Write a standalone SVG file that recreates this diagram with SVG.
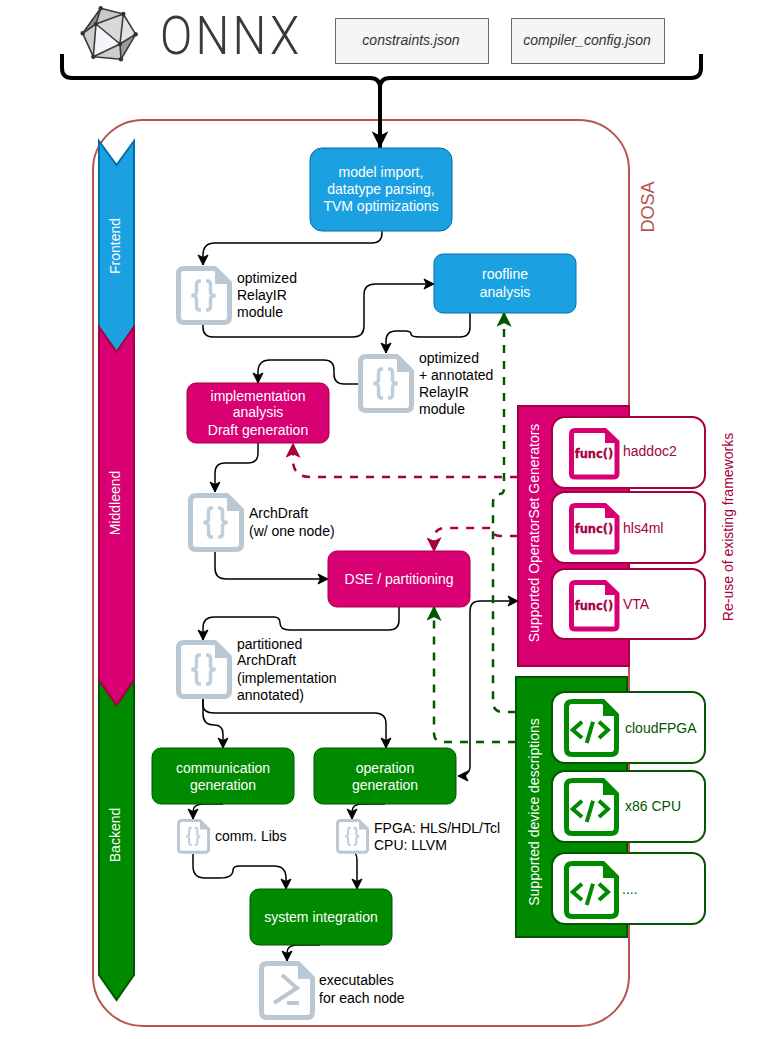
<svg xmlns="http://www.w3.org/2000/svg" width="777" height="1039" viewBox="0 0 777 1039">
<style>
text{font-family:"Liberation Sans",Arial,sans-serif;font-size:14px}
.w{fill:#fff}.k{fill:#000}.m{fill:#a50040}.g{fill:#005700}
.c{text-anchor:middle}
.box{stroke-width:1}
.blue{fill:#1ba1e2;stroke:#006eaf}.pink{fill:#d80073;stroke:#a50040}.green{fill:#008a00;stroke:#005700}
.card{fill:#fff;stroke-width:2}
.conn{fill:none;stroke:#000;stroke-width:1.5}
.dg{fill:none;stroke:#005700;stroke-width:2.5;stroke-dasharray:8 8}
.dm{fill:none;stroke:#a50040;stroke-width:2.5;stroke-dasharray:8 8}
.ft{fill:none;stroke:#bac8d3;stroke-width:5;stroke-linejoin:round}
.br{fill:none;stroke:#bfcedb;stroke-width:3.5}
.edge{fill:none;stroke:#3a3a3a;stroke-width:1.6;stroke-linejoin:round}
.cfg{fill:#f5f5f5;stroke:#666;stroke-width:1}
.cfgt{font-style:italic;font-size:14px;fill:#333;text-anchor:middle}
.fn{font-family:"DejaVu Sans",sans-serif;font-weight:bold;font-size:11.500px;fill:#a50040;stroke:#a50040;stroke-width:.3;text-anchor:middle}
</style>
<defs>
<marker id="ak" viewBox="0 0 12 12" refX="11" refY="6" markerWidth="12" markerHeight="12" markerUnits="userSpaceOnUse" orient="auto-start-reverse"><path d="M1 1 L11 6 L1 11 L3.500 6 Z" fill="#000" stroke="#000" stroke-width="1"/></marker>
<marker id="ag" viewBox="0 0 12 12" refX="11" refY="6" markerWidth="15" markerHeight="15" markerUnits="userSpaceOnUse" orient="auto"><path d="M1 1 L11 6 L1 11 L3.500 6 Z" fill="#005700" stroke="#005700"/></marker>
<marker id="am" viewBox="0 0 12 12" refX="11" refY="6" markerWidth="15" markerHeight="15" markerUnits="userSpaceOnUse" orient="auto"><path d="M1 1 L11 6 L1 11 L3.500 6 Z" fill="#a50040" stroke="#a50040"/></marker>
<marker id="abig" viewBox="0 0 12 12" refX="11" refY="6" markerWidth="20" markerHeight="20" markerUnits="userSpaceOnUse" orient="auto"><path d="M1 1 L11 6 L1 11 L3.500 6 Z" fill="#000"/></marker>
<g id="file"><path class="ft" d="M8 2.500H39L53.500 17V51Q53.500 56.500 48 56.500H8Q2.500 56.500 2.500 51V8Q2.500 2.500 8 2.500Z"/><path d="M40 3L53 17H40Z" fill="#bac8d3" stroke="#bac8d3" stroke-width="2"/></g>
<g id="json"><use href="#file"/><path class="br" d="M25 15H23.500Q20.500 15 20.500 19V26Q20.500 29 15.500 29.500Q20.500 30 20.500 33V40Q20.500 44 23.500 44H25"/><path class="br" d="M30 15H31.500Q34.500 15 34.500 19V26Q34.500 29 39.500 29.500Q34.500 30 34.500 33V40Q34.500 44 31.500 44H30"/></g>
<g id="codefile"><path d="M7 2.500H39L52.500 16V50Q52.500 55.500 47 55.500H8Q2.500 55.500 2.500 50V8Q2.500 2.500 8 2.500Z" fill="#fff" stroke="#008a00" stroke-width="5"/><path d="M40 3L52 16H40Z" fill="#008a00" stroke="#008a00" stroke-width="2"/><path d="M18 22.700L8.700 31L18 39M35 22.700L44 31L35 39M29 22.700L22.700 44" fill="none" stroke="#008a00" stroke-width="4"/></g>
<g id="funcfile"><path d="M6 2.500H36L48 14V46Q48 49 44 49H6Q2.500 49 2.500 46V6Q2.500 2.500 6 2.500Z" fill="#fff" stroke="#d80073" stroke-width="5"/><path d="M37 3L47 14H37Z" fill="#d80073" stroke="#d80073" stroke-width="2"/></g>
</defs>

<g id="onnx-logo">
<path d="M100.700 8.300L123.300 14L96 24Z" fill="#c8c8c8"/>
<path d="M123.300 14L135.700 34.300L120 44Z" fill="#e2e3e4"/>
<path d="M123.300 14L120 44L96 24Z" fill="#d8d8d8"/>
<path d="M82.700 33.300L100.700 8.300L96 24Z" fill="#8f8f8f"/>
<path d="M82.700 33.300L96 24L93.300 56.700Z" fill="#cfcfcf"/>
<path d="M96 24L120 44L93.300 56.700Z" fill="#f3f5f8"/>
<path d="M93.300 56.700L120 44L121 59.300Z" fill="#cdcdcd"/>
<path d="M120 44L135.700 34.300L121 59.300Z" fill="#9c9c9c"/>
<path class="edge" d="M100.700 8.300L123.300 14L135.700 34.300L121 59.300L93.300 56.700L82.700 33.300ZM100.700 8.300L96 24L123.300 14L120 44L135.700 34.300M82.700 33.300L96 24L93.300 56.700L120 44L121 59.300M96 24L120 44"/>
<g fill="#333"><circle cx="100.700" cy="8.300" r="2.200"/><circle cx="123.300" cy="14" r="2.200"/><circle cx="135.700" cy="34.300" r="2.200"/><circle cx="121" cy="59.300" r="2.200"/><circle cx="93.300" cy="56.700" r="2.200"/><circle cx="82.700" cy="33.300" r="2.200"/><circle cx="96" cy="24" r="2.200"/><circle cx="120" cy="44" r="2.200"/></g>
<text transform="translate(160 54) scale(.9 1)" style="font-family:Roboto,sans-serif;font-size:53px;font-weight:300;letter-spacing:3.500px;fill:#3a3a3a">ONNX</text>
</g>
<g id="constraints"><rect class="cfg" x="335.500" y="18.500" width="153" height="45"/><text class="cfgt" x="411" y="45">constraints.json</text></g>
<g id="compiler-config"><rect class="cfg" x="511.500" y="18.500" width="153" height="45"/><text class="cfgt" x="587" y="45">compiler_config.json</text></g>

<g id="dosa"><rect x="93" y="120" width="536" height="906" rx="50" fill="#fff" stroke="#b85450" stroke-width="2"/>
<text transform="translate(654 207) rotate(-90)" class="c" style="font-size:18px;fill:#b85450">DOSA</text></g>

<g id="frontend"><path class="blue" stroke-width="2" d="M99 141L116.500 165L134 141V327L116.500 352L99 327Z"/><text class="w c" transform="translate(120 246) rotate(-90)">Frontend</text></g>
<g id="backend"><path class="green" stroke-width="2" d="M99 680L116.500 705L134 680V975L116.500 1000L99 975Z"/><text class="w c" transform="translate(120 835) rotate(-90)">Backend</text></g>
<g id="middleend"><path class="pink" stroke-width="2" d="M99 327L116.500 352L134 327V680L116.500 705L99 680Z"/><text class="w c" transform="translate(120 503) rotate(-90)">Middleend</text></g>

<g id="opset-panel"><rect class="pink" stroke-width="2" x="518" y="406" width="111" height="260"/><text class="w c" transform="translate(539 533) rotate(-90)">Supported OperatorSet Generators</text></g>
<g id="device-panel"><rect class="green" stroke-width="2" x="516" y="677" width="111" height="260"/><text class="w c" transform="translate(539 812) rotate(-90)">Supported device descriptions</text></g>

<g id="connectors">
<path d="M62 54V68Q62 78 72 78H370Q380 78 380 88Q380 78 390 78H691Q701 78 701 68V54" fill="none" stroke="#000" stroke-width="4"/>
<path d="M380 80V148" fill="none" stroke="#000" stroke-width="4" marker-end="url(#abig)"/>
<path class="conn" marker-end="url(#ak)" d="M382 231V233Q382 243 372 243H215Q203 243 203 255V265"/>
<path class="conn" marker-end="url(#ak)" d="M203 325V327Q203 337 213 337H353Q364 337 364 326V295Q364 284 375 284H434"/>
<path class="conn" marker-end="url(#ak)" d="M470 313V327Q470 337 460 337H420Q411 337 411 334Q411 331 405 331H396Q386 331 386 341V353"/>
<path class="conn" marker-end="url(#ak)" d="M358 384H344Q334 384 334 374V370Q334 360 324 360H270Q258 360 258 372V383"/>
<path class="conn" marker-end="url(#ak)" d="M258 443V453Q258 463 248 463H225Q215 463 215 473V492"/>
<path class="conn" marker-end="url(#ak)" d="M215 552V568Q215 579 226 579H328"/>
<path class="conn" marker-end="url(#ak)" d="M399 607V620Q399 630 389 630H290Q280 630 280 623Q280 617 274 617H214Q203 617 203 628V640"/>
<path class="conn" marker-end="url(#ak)" d="M203 699V714Q203 725 214 725Q223 725 223 734V748"/>
<path class="conn" marker-end="url(#ak)" d="M203 699V705Q203 713 214 713H375Q386 713 386 724V748"/>
<path class="conn" marker-end="url(#ak)" d="M223 804H203Q193 804 193 812V819"/>
<path class="conn" marker-end="url(#ak)" d="M385 804H362Q352 804 352 812V819"/>
<path class="conn" marker-end="url(#ak)" d="M193 854V866Q193 878 205 878H220Q233 878 233 870Q233 866 240 866H274Q286 866 286 878V889"/>
<path class="conn" marker-end="url(#ak)" d="M355 854Q357 854 357 862V889"/>
<path class="conn" marker-end="url(#ak)" d="M320 945H297Q287 945 287 953V961"/>
<path class="conn" marker-end="url(#ak)" marker-start="url(#ak)" d="M518 601H480Q470 601 470 611V766Q470 776 458 776"/>
<path class="dg" marker-end="url(#ag)" d="M516 712H503Q493 712 493 702V503Q493 494 500 494Q504 494 504 488V313"/>
<path class="dg" marker-end="url(#ag)" d="M516 742H443Q434 742 434 733V607"/>
<path class="dm" marker-end="url(#am)" d="M518 477H310Q293 477 293 460V444"/>
<path class="dm" marker-end="url(#am)" d="M518 536H500Q492 536 491 528H445Q434 528 434 540V551"/>
</g>

<g id="model-import"><rect class="blue box" x="310" y="148" width="142" height="83" rx="12"/><text class="w c" x="381" y="177">model import,</text><text class="w c" x="381" y="194">datatype parsing,</text><text class="w c" x="381" y="211">TVM optimizations</text></g>
<g id="roofline"><rect class="blue box" x="434" y="254" width="142" height="59" rx="9"/><text class="w c" x="505" y="279">roofline</text><text class="w c" x="505" y="297">analysis</text></g>
<g id="impl"><rect class="pink box" x="187" y="383" width="142" height="60" rx="9"/><text class="w c" x="258" y="401">implementation</text><text class="w c" x="258" y="417">analysis</text><text class="w c" x="258" y="435">Draft generation</text></g>
<g id="dse"><rect class="pink box" x="328" y="551" width="142" height="56" rx="9"/><text class="w c" x="399" y="584">DSE / partitioning</text></g>
<g id="comm-gen"><rect class="green box" x="152" y="748" width="142" height="56" rx="9"/><text class="w c" x="223" y="773">communication</text><text class="w c" x="223" y="790">generation</text></g>
<g id="op-gen"><rect class="green box" x="314" y="748" width="142" height="56" rx="9"/><text class="w c" x="385" y="773">operation</text><text class="w c" x="385" y="790">generation</text></g>
<g id="sys-int"><rect class="green box" x="250" y="889" width="142" height="56" rx="9"/><text class="w c" x="321" y="922">system integration</text></g>

<g id="relayir"><use href="#json" x="176" y="266"/><text class="k" x="237" y="283">optimized</text><text class="k" x="237" y="300">RelayIR</text><text class="k" x="237" y="317">module</text></g>
<g id="annotated"><use href="#json" x="358" y="354"/><text class="k" x="419" y="363">optimized</text><text class="k" x="419" y="380">+ annotated</text><text class="k" x="419" y="397">RelayIR</text><text class="k" x="419" y="414">module</text></g>
<g id="archdraft"><use href="#json" x="188" y="493"/><text class="k" x="249" y="518">ArchDraft</text><text class="k" x="249" y="536">(w/ one node)</text></g>
<g id="partitioned"><use href="#json" x="176" y="640"/><text class="k" x="237" y="649">partitioned</text><text class="k" x="237" y="665">ArchDraft</text><text class="k" x="237" y="683">(implementation</text><text class="k" x="237" y="700">annotated)</text></g>
<g id="comm-libs"><use href="#json" transform="translate(177 819) scale(.59)"/><text class="k" x="215" y="841">comm. Libs</text></g>
<g id="op-libs"><use href="#json" transform="translate(336 819) scale(.59)"/><text class="k" x="374" y="833">FPGA: HLS/HDL/Tcl</text><text class="k" x="374" y="850">CPU: LLVM</text></g>
<g id="exec"><use href="#file" x="259" y="961"/><path d="M282 975L297 988L274 1003M287 1003H299" fill="none" stroke="#bac8d3" stroke-width="4"/><text class="k" x="319" y="985">executables</text><text class="k" x="319" y="1003">for each node</text></g>

<g id="haddoc2"><rect class="card" stroke="#a50040" x="552" y="417" width="153" height="71" rx="13"/><use href="#funcfile" x="569" y="428"/><text class="fn" x="594" y="458">func()</text><text class="m" x="623" y="456">haddoc2</text></g>
<g id="hls4ml"><rect class="card" stroke="#a50040" x="552" y="492" width="153" height="71" rx="13"/><use href="#funcfile" x="569" y="503"/><text class="fn" x="594" y="533">func()</text><text class="m" x="623" y="533">hls4ml</text></g>
<g id="vta"><rect class="card" stroke="#a50040" x="552" y="569" width="153" height="70" rx="13"/><use href="#funcfile" x="569" y="580"/><text class="fn" x="594" y="610">func()</text><text class="m" x="623" y="609">VTA</text></g>
<g id="cloudfpga"><rect class="card" stroke="#005700" x="552" y="692" width="153" height="71" rx="13"/><use href="#codefile" x="564" y="699"/><text class="g" x="625" y="733">cloudFPGA</text></g>
<g id="x86"><rect class="card" stroke="#005700" x="552" y="771" width="153" height="71" rx="13"/><use href="#codefile" x="564" y="778"/><text class="g" x="625" y="811">x86 CPU</text></g>
<g id="more"><rect class="card" stroke="#005700" x="552" y="853" width="153" height="71" rx="13"/><use href="#codefile" x="564" y="861"/><text class="g" x="622" y="894">....</text></g>
<text class="m c" transform="translate(733 527) rotate(-90)">Re-use of existing frameworks</text>
</svg>
